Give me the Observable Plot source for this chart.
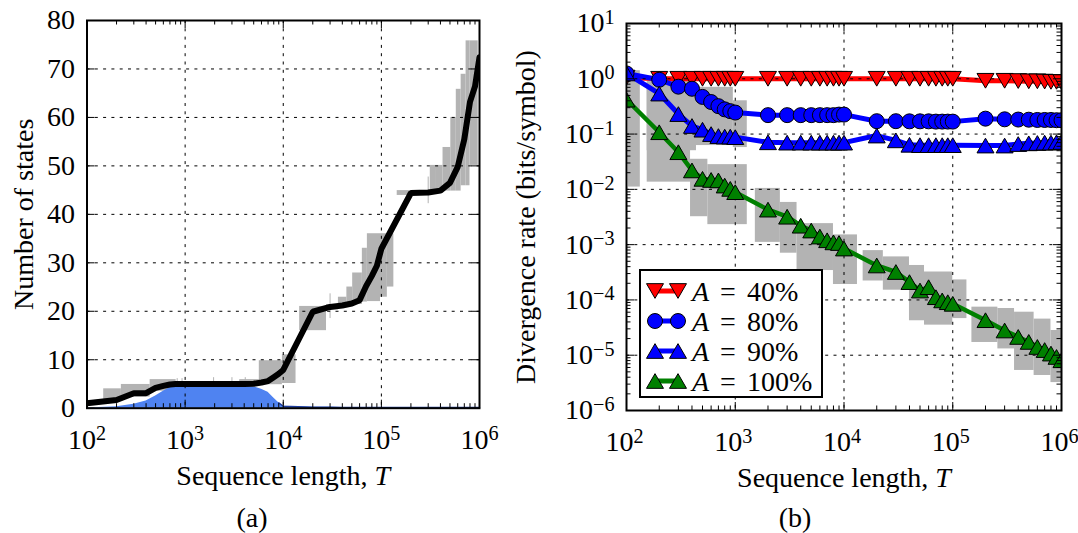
<!DOCTYPE html>
<html><head><meta charset="utf-8">
<script src="https://cdn.jsdelivr.net/npm/d3@7"></script>
<script src="https://cdn.jsdelivr.net/npm/@observablehq/plot@0.6"></script>
<style>
body{margin:0;background:#fff;}
#wrap{position:relative;width:1078px;height:533px;overflow:hidden;font-family:"Liberation Serif",serif;color:#000;}
.panel{position:absolute;top:0;}
.cap{position:absolute;font-size:28px;line-height:28px;transform:translate(-50%,-50%);white-space:nowrap;}
#legend{position:absolute;left:639px;top:269px;}
</style></head><body><div id="wrap"></div>
<script>
// ---------- shared sample lengths ----------
const T = [100,200,300,400,500,600,700,800,900,1000,2000,3000,4000,5000,6000,7000,8000,9000,10000,20000,30000,40000,50000,60000,70000,80000,90000,100000,200000,300000,400000,500000,600000,700000,800000,900000,1000000];
const xDecades = [1e2,1e3,1e4,1e5,1e6];
const xDecadeLabels = ["10^2","10^3","10^4","10^5","10^6"];

// ---------- panel (a) ----------
const statesMean = [1.0,1.7,3.1,3.1,4.2,4.6,4.9,5.0,5.0,5.0, 5.0,5.0,5.0,5.05,5.3,5.6,6.4,7.1,7.9, 19.9,20.9,21.2,21.6,22.3,25.2,27.3,29.4,32.9, 44.4,44.5,44.9,46.5,49.8,55.5,63.2,66.4,72.4];
const blueArea = [0.05,0.3,0.8,1.5,2.5,3.5,4.2,4.5,4.5,4.5, 4.5,4.5,4.5,4.4,3.9,3.3,2.1,1.1,0.4, 0.2,0.18,0.17,0.16,0.15,0.15,0.15,0.15,0.15, 0.12,0.12,0.12,0.12,0.12,0.12,0.12,0.12,0.12];
// gray range blocks: [T start, T end, low, high]
const grayA = [
  [148,224,1.5,4.0],[224,440,2.3,4.9],[440,810,3.5,5.9],[810,3600,4.9,5.2],
  [3600,5700,4.9,5.9],[5700,9800,4.85,9.8],[9800,13500,5.1,11.0],
  [14700,27600,16.0,21.0],[27600,36500,20.3,21.4],[36500,44500,20.8,22.9],
  [44500,51000,21.2,25.0],[51000,64000,21.4,27.9],[64000,72000,21.9,33.0],
  [72000,98000,22.0,36.0],[98000,115000,22.9,36.0],[115000,134000,25.0,36.0],
  [145000,315000,43.9,44.9],[315000,364000,44.8,50.1],[364000,425000,44.8,50.1],
  [425000,510000,44.8,53.8],[510000,580000,44.8,60.0],[580000,650000,44.8,65.8],
  [650000,730000,45.9,68.9],[730000,800000,45.9,75.8],[800000,970000,50.1,75.8]
];
const whiskersA = [[830,5.0,6.1],[930,5.0,6.1],[1950,5.0,6.3],[3000,5.0,6.3],[4100,5.0,6.3],[30000,18.5,23.6],[300000,42.2,47.7]];
const yTicksA = [0,10,20,30,40,50,60,70,80];

// ---------- panel (b) ----------
const rate40 = [1.05, 1.0,1.0,1.0,1.0,1.0,1.0,1.0,1.0,1.0, 1.0,1.0,1.0,1.0,1.0,1.0,1.0,1.0,1.0, 1.0,1.0,1.0,1.0,1.0,1.0,1.0,1.0,1.0, 0.92,0.92,0.91,0.9,0.9,0.89,0.88,0.88,0.87];
const rate80 = [1.25,0.96,0.72,0.66,0.47,0.38,0.32,0.28,0.26,0.245, 0.22,0.22,0.22,0.22,0.22,0.22,0.22,0.225,0.225, 0.171,0.171,0.17,0.17,0.17,0.168,0.168,0.168,0.168, 0.19,0.185,0.183,0.182,0.18,0.18,0.18,0.178,0.178];
const rate90 = [1.25,0.54,0.23,0.14,0.12,0.10,0.092,0.09,0.09,0.088, 0.071,0.07,0.07,0.07,0.07,0.07,0.07,0.07,0.07, 0.094,0.077,0.064,0.063,0.063,0.063,0.063,0.063,0.063, 0.062,0.062,0.066,0.068,0.069,0.07,0.07,0.071,0.072];
const rate100 = [0.42,0.108,0.047,0.022,0.0155,0.0148,0.0145,0.0117,0.0102,0.0089, 0.0043,0.0032,0.0022,0.0018,0.0014,0.0012,0.0011,0.00107,0.00085, 0.00042,0.00032,0.00021,0.000148,0.00017,0.000112,0.000098,0.000091,0.000085, 0.000043,0.000028,0.0000214,0.0000174,0.0000141,0.0000124,0.0000107,0.0000093,0.0000081];
// gray range blocks: [T start, T end, low, high]
const grayB = [
  [104,134,0.011,1.4],[155,388,0.0135,0.9],[388,560,0.0032,0.035],[560,1290,0.0023,0.028],
  [1530,2600,0.0011,0.0104],[2600,3700,0.0007,0.0058],[3700,8000,0.00034,0.0024],[8000,13300,0.00019,0.0015],
  [15000,23000,0.00022,0.00078],[23000,40000,0.00015,0.0006],[40000,55000,0.000042,0.00042],
  [55000,100000,0.000035,0.00032],[100000,135000,0.000046,0.00023],
  [150000,260000,0.000017,0.000074],[260000,370000,0.000013,0.00007],[370000,560000,0.0000053,0.00006],
  [560000,800000,0.0000043,0.000045],[800000,1000000,0.0000032,0.000028],
  [155,440,0.05,0.85],[440,960,0.062,0.7],[960,1290,0.057,0.4]
];
const yDecadesB = [1e-6,1e-5,1e-4,1e-3,1e-2,1e-1,1e0,1e1];
const yDecadeLabelsB = ["10^−6","10^−5","10^−4","10^−3","10^−2","10^−1","10^0","10^1"];
const seriesNames = ["40%","80%","90%","100%"];
const seriesColors = ["#ff0000","#0000ff","#0000ff","#008000"];

// ---------- helpers ----------
const FONT = "Liberation Serif";
const GRAY = "#b3b3b3";
const minorX = T.filter(t => !xDecades.includes(t));
const minorYB = [];
yDecadesB.slice(0,-1).forEach(d => [2,3,4,5,6,7,8,9].forEach(k => minorYB.push(d*k)));

function supify(svg){
  d3.select(svg).selectAll(".suplab text").each(function(){
    const s = this.textContent; const i = s.indexOf("^");
    if (i < 0) return;
    const base = s.slice(0,i), sup = s.slice(i+1);
    this.textContent = base;
    d3.select(this).append("tspan").attr("dy","-0.42em").attr("font-size","0.72em").text(sup);
  });
  d3.select(svg).selectAll(".xlab text").each(function(){
    d3.select(this).append("tspan").attr("font-style","italic").text("T");
  });
}
function ticks(pw, ph, xMaj, xMin, yMaj, yMin){
  const M = 8, m = 4.5, o = {stroke:"black", strokeWidth:1};
  const out = [
    Plot.ruleX(xMaj, {x:d=>d, insetTop: ph-M, ...o}),
    Plot.ruleX(xMaj, {x:d=>d, insetBottom: ph-M, ...o}),
    Plot.ruleY(yMaj, {y:d=>d, insetRight: pw-M, ...o}),
    Plot.ruleY(yMaj, {y:d=>d, insetLeft: pw-M, ...o})
  ];
  if (xMin) out.push(Plot.ruleX(xMin, {x:d=>d, insetTop: ph-m, ...o}), Plot.ruleX(xMin, {x:d=>d, insetBottom: ph-m, ...o}));
  if (yMin) out.push(Plot.ruleY(yMin, {y:d=>d, insetRight: pw-m, ...o}), Plot.ruleY(yMin, {y:d=>d, insetLeft: pw-m, ...o}));
  return out;
}
const wrap = document.getElementById("wrap");

// ---------- build panel (a) ----------
{
  const W = 500, H = 500, mL = 86.5, mR = 21, mT = 20, mB = 92.3;
  const pw = W-mL-mR, ph = H-mT-mB;
  const line = T.map((t,i)=>({t, v: statesMean[i]}));
  const area = T.map((t,i)=>({t, v: blueArea[i]}));
  const gray = grayA.map(([a,b,lo,hi])=>({a,b,lo,hi}));
  const wh = whiskersA.map(([t,lo,hi])=>({t,lo,hi}));
  const grid = {stroke:"black", strokeWidth:1, strokeDasharray:"3,5.3"};
  const p = Plot.plot({
    width: W, height: H, marginLeft: mL, marginRight: mR, marginTop: mT, marginBottom: mB,
    style: {fontFamily: FONT, fontSize: "28px", background: "transparent"},
    x: {type: "log", domain: [1e2, 1e6], axis: null},
    y: {domain: [0, 80], axis: null},
    marks: [
      Plot.rect(gray, {x1:"a", x2:"b", y1:"lo", y2:"hi", fill: GRAY}),
      Plot.ruleX(wh, {x:"t", y1:"lo", y2:"hi", stroke: GRAY, strokeWidth: 1}),
      Plot.areaY(area, {x:"t", y:"v", fill:"#4f83f1"}),
      Plot.line(area.filter(d=>d.t>=9000), {x:"t", y:"v", stroke:"#1d3c9c", strokeWidth:1.5}),
      Plot.ruleX(xDecades.slice(1,-1), {x:d=>d, ...grid}),
      Plot.ruleY(yTicksA.slice(1,-1), {y:d=>d, ...grid}),
      Plot.line(line, {x:"t", y:"v", stroke:"black", strokeWidth:6, strokeLinejoin:"miter", clip:true}),
      ...ticks(pw, ph, xDecades, minorX, yTicksA, null),
      Plot.frame({stroke:"black", strokeWidth:2}),
      Plot.text(xDecades, {x:d=>d, text:(d,i)=>xDecadeLabels[i], frameAnchor:"bottom", dy:31.5, lineAnchor:"middle", textAnchor:"middle", className:"suplab"}),
      Plot.text(yTicksA, {y:d=>d, text:d=>String(d), frameAnchor:"left", dx:-12, textAnchor:"end", lineAnchor:"middle"}),
      Plot.text(["Sequence length, "], {frameAnchor:"bottom", dy:68, lineAnchor:"middle", textAnchor:"middle", className:"xlab"}),
      Plot.text(["Number of states"], {frameAnchor:"left", dx:-62.5, rotate:-90, lineAnchor:"middle", textAnchor:"middle"})
    ]
  });
  supify(p);
  p.classList.add("panel"); p.style.left = "0px";
  wrap.appendChild(p);
  const c = document.createElement("div"); c.className = "cap"; c.textContent = "(a)";
  c.style.left = "252px"; c.style.top = "518px"; wrap.appendChild(c);
}

// ---------- build panel (b) ----------
{
  const W = 578, H = 500, mL = 126, mR = 17, mT = 23, mB = 90;
  const pw = W-mL-mR, ph = H-mT-mB;
  const all = [rate40, rate80, rate90, rate100];
  const rows = [];
  all.forEach((arr, s) => T.forEach((t,i) => rows.push({t, v: arr[i], s})));
  const gray = grayB.map(([a,b,lo,hi])=>({a,b,lo,hi}));
  const grid = {stroke:"black", strokeWidth:1, strokeDasharray:"3,5.3"};
  const tri = 6.3, off = 2.45;
  const sel = s => rows.filter(d=>d.s===s);
  const p = Plot.plot({
    width: W, height: H, marginLeft: mL, marginRight: mR, marginTop: mT, marginBottom: mB,
    style: {fontFamily: FONT, fontSize: "28px", background: "transparent"},
    x: {type: "log", domain: [1e2, 1e6], axis: null},
    y: {type: "log", domain: [1e-6, 1e1], axis: null},
    marks: [
      Plot.rect(gray, {x1:"a", x2:"b", y1:"lo", y2:"hi", fill: GRAY}),
      Plot.line(sel(0), {x:"t", y:"v", stroke: seriesColors[0], strokeWidth:5, clip:true}),
      Plot.line(sel(1), {x:"t", y:"v", stroke: seriesColors[1], strokeWidth:5, clip:true}),
      Plot.line(sel(2), {x:"t", y:"v", stroke: seriesColors[2], strokeWidth:5, clip:true}),
      Plot.line(sel(3), {x:"t", y:"v", stroke: seriesColors[3], strokeWidth:4.5, clip:true}),
      Plot.ruleX(xDecades.slice(1,-1), {x:d=>d, ...grid}),
      Plot.ruleY(yDecadesB.slice(1,-1), {y:d=>d, ...grid}),
      Plot.dot(sel(0), {x:"t", y:"v", symbol:"triangle", r: tri, rotate:180, dy:-off, fill: seriesColors[0], stroke:"black", strokeWidth:1, clip:true}),
      Plot.dot(sel(1), {x:"t", y:"v", symbol:"circle", r: 7.5, fill: seriesColors[1], stroke:"black", strokeWidth:1, clip:true}),
      Plot.dot(sel(2), {x:"t", y:"v", symbol:"triangle", r: tri, dy:off, fill: seriesColors[2], stroke:"black", strokeWidth:1, clip:true}),
      Plot.dot(sel(3), {x:"t", y:"v", symbol:"triangle", r: tri, dy:off, fill: seriesColors[3], stroke:"black", strokeWidth:1, clip:true}),
      ...ticks(pw, ph, xDecades, minorX, yDecadesB, minorYB),
      Plot.frame({stroke:"black", strokeWidth:2}),
      Plot.text(xDecades, {x:d=>d, text:(d,i)=>xDecadeLabels[i], frameAnchor:"bottom", dx:-2, dy:31.7, lineAnchor:"middle", textAnchor:"middle", className:"suplab"}),
      Plot.text(yDecadesB, {y:d=>d, text:(d,i)=>yDecadeLabelsB[i], frameAnchor:"left", dx:-12, textAnchor:"end", lineAnchor:"middle", className:"suplab"}),
      Plot.text(["Sequence length, "], {frameAnchor:"bottom", dy:68, lineAnchor:"middle", textAnchor:"middle", className:"xlab"}),
      Plot.text(["Divergence rate (bits/symbol)"], {frameAnchor:"left", dx:-100, rotate:-90, lineAnchor:"middle", textAnchor:"middle"})
    ]
  });
  supify(p);
  p.classList.add("panel"); p.style.left = "500px";
  wrap.appendChild(p);
  const c = document.createElement("div"); c.className = "cap"; c.textContent = "(b)";
  c.style.left = "795px"; c.style.top = "518px"; wrap.appendChild(c);

  // legend (inside panel b, lower left)
  const LW = 184, LH = 129;
  const lg = d3.create("svg").attr("id","legend").attr("width", LW).attr("height", LH)
    .style("font-family", FONT).style("font-size","28px");
  lg.append("rect").attr("x",1).attr("y",1).attr("width",LW-2).attr("height",LH-2).attr("fill","white").attr("stroke","black").attr("stroke-width",2);
  const symT = d3.symbol(d3.symbolTriangle, Math.PI*tri*tri)();
  const symC = d3.symbol(d3.symbolCircle, Math.PI*7.5*7.5)();
  seriesNames.forEach((name, i) => {
    const cy = 22 + i*30;
    const g = lg.append("g");
    g.append("line").attr("x1",16).attr("x2",39).attr("y1",cy).attr("y2",cy).attr("stroke",seriesColors[i]).attr("stroke-width",5);
    [16,39].forEach(cx => {
      const path = g.append("path").attr("fill", seriesColors[i]).attr("stroke","black").attr("stroke-width",1);
      if (i===1) path.attr("d", symC).attr("transform", `translate(${cx},${cy})`);
      else if (i===0) path.attr("d", symT).attr("transform", `translate(${cx},${cy-off}) rotate(180)`);
      else path.attr("d", symT).attr("transform", `translate(${cx},${cy+off})`);
    });
    const t = g.append("text").attr("x",53).attr("y",cy).attr("dy","0.34em").style("word-spacing","4px");
    t.append("tspan").attr("font-style","italic").text("A");
    t.append("tspan").text(" = " + name);
  });
  wrap.appendChild(lg.node());
}
</script></body></html>
